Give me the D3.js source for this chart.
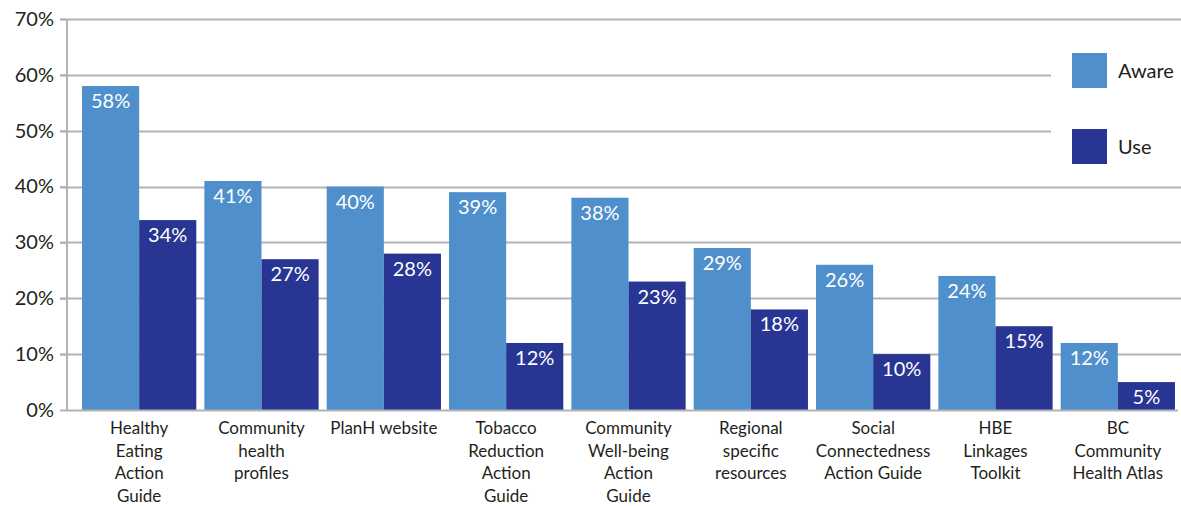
<!DOCTYPE html>
<html>
<head>
<meta charset="utf-8">
<script src="https://cdn.jsdelivr.net/npm/d3@7"></script>
<style>
  html, body { margin: 0; padding: 0; background: #fff; }
  svg { display: block; font-family: "Lato", "Open Sans", sans-serif; }
</style>
</head>
<body>
<svg id="chart" width="1181" height="506"></svg>
<script>
// Awareness and use of resources (% of respondents)
const categories = [
  ["Healthy", "Eating", "Action", "Guide"],
  ["Community", "health", "profiles"],
  ["PlanH website"],
  ["Tobacco", "Reduction", "Action", "Guide"],
  ["Community", "Well-being", "Action", "Guide"],
  ["Regional", "specific", "resources"],
  ["Social", "Connectedness", "Action Guide"],
  ["HBE", "Linkages", "Toolkit"],
  ["BC", "Community", "Health Atlas"]
];
const aware = [58, 41, 40, 39, 38, 29, 26, 24, 12];
const use   = [34, 27, 28, 12, 23, 18, 10, 15, 5];
const seriesNames = ["Aware", "Use"];
const yTicks = [0, 10, 20, 30, 40, 50, 60, 70];

const colors = { Aware: "#4f8fcc", Use: "#283593" };

const svg = d3.select("#chart");
const W = 1181;

const y = d3.scaleLinear().domain([0, 70]).range([410, 19]);

const x = d3.scaleBand()
  .domain(d3.range(categories.length))
  .range([78, 1179])
  .paddingInner(0.066)
  .paddingOuter(0.033);

const xs = d3.scaleBand()
  .domain(seriesNames)
  .range([0, x.bandwidth()]);

// horizontal gridlines
svg.append("g")
  .selectAll("line")
  .data(yTicks.filter(d => d > 0))
  .join("line")
  .attr("x1", 60).attr("x2", W)
  .attr("y1", d => Math.round(y(d)) + 0.5)
  .attr("y2", d => Math.round(y(d)) + 0.5)
  .attr("stroke", "#b3b3b3")
  .attr("stroke-width", 2);

// y axis
const yAxis = d3.axisLeft(y)
  .tickValues(yTicks)
  .tickFormat(d => d + "%")
  .tickSize(7)
  .tickPadding(6);

const gy = svg.append("g").attr("transform", "translate(67,0)").call(yAxis);
gy.select(".domain").attr("stroke", "#b3b3b3").attr("stroke-width", 2)
  .attr("d", `M0,${y(70)}V${y(0)}`);
gy.selectAll(".tick line").attr("stroke", "#b3b3b3").attr("stroke-width", 2);
gy.selectAll(".tick text")
  .attr("fill", "#231f20")
  .style("font-size", "20px")
  .style("font-family", "Lato, sans-serif");

// bars
const groups = svg.append("g")
  .selectAll("g")
  .data(categories.map((c, i) => ({ i, Aware: aware[i], Use: use[i] })))
  .join("g")
  .attr("transform", d => `translate(${x(d.i)},0)`);

groups.selectAll("rect")
  .data(d => seriesNames.map(k => ({ key: k, value: d[k] })))
  .join("rect")
  .attr("x", d => xs(d.key))
  .attr("width", xs.bandwidth())
  .attr("y", d => y(d.value))
  .attr("height", d => y(0) - y(d.value))
  .attr("fill", d => colors[d.key]);

groups.selectAll("text.val")
  .data(d => seriesNames.map(k => ({ key: k, value: d[k] })))
  .join("text")
  .attr("class", "val")
  .attr("x", d => xs(d.key) + xs.bandwidth() / 2)
  .attr("y", d => y(d.value) + 22)
  .attr("text-anchor", "middle")
  .attr("fill", "#fff")
  .style("font-size", "20px")
  .text(d => d.value + "%");

// baseline
svg.append("line")
  .attr("x1", 67).attr("x2", 1178)
  .attr("y1", y(0) + 0.5).attr("y2", y(0) + 0.5)
  .attr("stroke", "#b3b3b3").attr("stroke-width", 2);

// category labels
const lab = svg.append("g")
  .selectAll("text")
  .data(categories.map((lines, i) => ({ lines, i })))
  .join("text")
  .attr("x", d => x(d.i) + x.bandwidth() / 2)
  .attr("y", 434)
  .attr("text-anchor", "middle")
  .attr("fill", "#231f20")
  .style("font-size", "17px");
lab.selectAll("tspan")
  .data(d => d.lines)
  .join("tspan")
  .attr("x", function () { return d3.select(this.parentNode).attr("x"); })
  .attr("dy", (d, i) => i === 0 ? 0 : 22.5)
  .text(d => d);

// legend
const legend = svg.append("g");
legend.append("rect")
  .attr("x", 1051).attr("y", 45).attr("width", 130).attr("height", 131)
  .attr("fill", "#fff");
const li = legend.selectAll("g")
  .data(seriesNames)
  .join("g")
  .attr("transform", (d, i) => `translate(1072,${53 + i * 76})`);
li.append("rect")
  .attr("width", 35).attr("height", 35)
  .attr("fill", d => colors[d]);
li.append("text")
  .attr("x", 46).attr("y", 25)
  .attr("fill", "#231f20")
  .style("font-size", "20px")
  .text(d => d);
</script>
</body>
</html>
